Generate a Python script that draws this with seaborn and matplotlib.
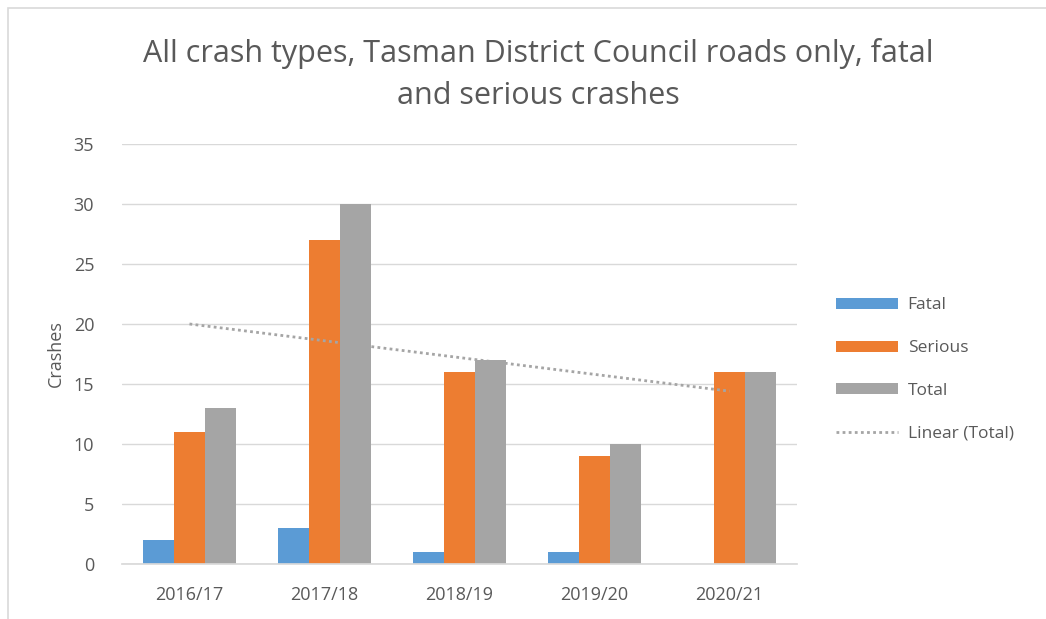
import numpy as np
import pandas as pd
import seaborn as sns
from matplotlib import pyplot as plt
from matplotlib.patches import Rectangle
from matplotlib.lines import Line2D

years = ['2016/17', '2017/18', '2018/19', '2019/20', '2020/21']
fatal = [2, 3, 1, 1, 0]
serious = [11, 27, 16, 9, 16]
total = [13, 30, 17, 10, 16]

sns.set_theme(style="white")
plt.rcParams['font.family'] = ['Open Sans', 'DejaVu Sans']
text_col = '#595959'

df = pd.DataFrame({'year': years * 3,
                   'crashes': fatal + serious + total,
                   'type': ['Fatal'] * 5 + ['Serious'] * 5 + ['Total'] * 5})

fig = plt.figure(figsize=(10.46, 6.19), dpi=100)
ax = fig.add_axes([0.1166, 0.0889, 0.6454, 0.6785])

sns.barplot(data=df, x='year', y='crashes', hue='type',
            palette=['#5B9BD5', '#ED7D31', '#A5A5A5'], saturation=1,
            width=0.69, ax=ax, legend=False, linewidth=0)

# linear trend of Total
xs = np.arange(len(years))
k, b = np.polyfit(xs, total, 1)
ax.plot(xs, k * xs + b, linestyle=(0, (1, 1.2)), color='#A5A5A5', lw=2)

ax.set_ylim(0, 35)
ax.set_xlim(-0.5, 4.5)
ax.set_yticks(range(0, 36, 5))
ax.yaxis.grid(True, color='#D9D9D9', lw=1)
ax.set_axisbelow(True)
for s in ['top', 'right', 'left']:
    ax.spines[s].set_visible(False)
ax.spines['bottom'].set_color('#D9D9D9')
ax.tick_params(axis='both', length=0, labelsize=13, colors=text_col)
ax.tick_params(axis='x', pad=16)
ax.tick_params(axis='y', pad=20)
ax.set_xlabel('')
ax.set_ylabel('Crashes', fontsize=13, color=text_col, labelpad=6)

fig.suptitle('All crash types, Tasman District Council roads only, fatal\nand serious crashes',
             x=0.515, y=0.938, fontsize=22, color=text_col, linespacing=1.5)

handles = [Rectangle((0, 0), 1, 1, color=c, lw=0) for c in ['#5B9BD5', '#ED7D31', '#A5A5A5']]
handles.append(Line2D([], [], linestyle=(0, (1, 1.2)), color='#A5A5A5', lw=2))
fig.legend(handles, ['Fatal', 'Serious', 'Total', 'Linear (Total)'],
           loc='upper left', bbox_to_anchor=(0.784, 0.545), frameon=False,
           fontsize=12.5, labelcolor=text_col, handlelength=3.6, handleheight=0.6,
           labelspacing=1.55, handletextpad=0.55)

fig.add_artist(Rectangle((8 / 1046, -0.1), 1.2, 1.087, transform=fig.transFigure,
                         fill=False, edgecolor='#D9D9D9', lw=1.2))

fig.savefig('out.png', dpi=100)
